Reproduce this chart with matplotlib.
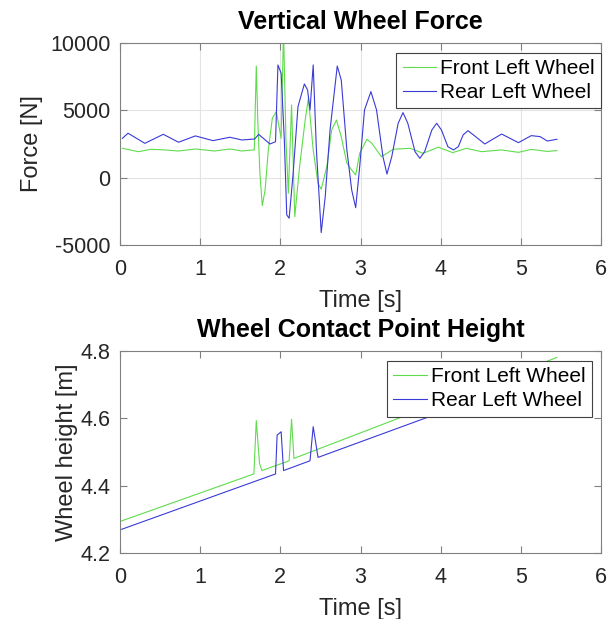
import matplotlib
matplotlib.use("Agg")
import matplotlib.pyplot as plt
from matplotlib.ticker import FormatStrFormatter

plt.rcParams['font.family'] = ['Liberation Sans', 'DejaVu Sans']
plt.rcParams['axes.unicode_minus'] = False

# ---- vertical wheel force ----
t_front = [0.03, 0.23, 0.39, 0.56, 0.73, 0.94, 1.18, 1.37, 1.52, 1.66, 1.675,
           1.70, 1.72, 1.745, 1.775, 1.81, 1.85, 1.90, 1.95, 2.01, 2.04, 2.07,
           2.10, 2.14, 2.18, 2.24, 2.31, 2.35, 2.41, 2.47, 2.51, 2.58, 2.64,
           2.70, 2.76, 2.83, 2.89, 2.94, 2.99, 3.08, 3.14, 3.26, 3.41, 3.62,
           3.78, 3.97, 4.15, 4.32, 4.51, 4.76, 4.97, 5.13, 5.33, 5.45]
f_front = [2180, 1930, 2110, 2060, 1980, 2130, 1980, 2130, 1980, 2060, 2060,
           8290, 4040, 330, -2080, -910, 2060, 4410, 4900, 2920, 11000, 2800,
           -1160, 5400, -2900, 820, 4280, 5890, 2060, -420, -860, 820, 3540,
           4280, 3040, 1070, 570, 200, 1810, 2850, 2560, 1560, 2110, 2180,
           1810, 2260, 1860, 2180, 1930, 2060, 1880, 2100, 1950, 2010]

t_rear = [0.03, 0.10, 0.31, 0.54, 0.73, 0.94, 1.16, 1.37, 1.52, 1.68, 1.73,
          1.87, 1.94, 1.97, 2.01, 2.05, 2.08, 2.11, 2.16, 2.22, 2.30, 2.34,
          2.37, 2.41, 2.45, 2.51, 2.56, 2.62, 2.71, 2.76, 2.83, 2.89, 2.94,
          2.99, 3.05, 3.13, 3.20, 3.28, 3.33, 3.39, 3.47, 3.53, 3.59, 3.68,
          3.74, 3.80, 3.89, 3.95, 4.01, 4.09, 4.16, 4.22, 4.28, 4.34, 4.41,
          4.55, 4.76, 4.97, 5.13, 5.24, 5.33, 5.45]
f_rear = [2920, 3300, 2550, 3220, 2630, 3100, 2750, 3000, 2800, 2870, 3220,
          2500, 2670, 8370, 7750, 2800, -2770, -3010, 330, 5270, 6960, 6510,
          5030, 8370, 2060, -4080, -1410, 3540, 8290, 7250, 2060, -910, -2230,
          820, 5030, 6390, 5030, 1560, 270, 1560, 4040, 4830, 4040, 1930,
          1440, 1930, 3540, 4040, 3540, 2300, 2060, 2300, 3170, 3490, 3170,
          2500, 3240, 2600, 3120, 3050, 2720, 2850]

# ---- wheel contact point height ----
t_front_h = [0.02, 1.67, 1.70, 1.74, 1.77, 2.11, 2.14, 2.17, 5.45]
h_front = [4.296, 4.435, 4.593, 4.467, 4.445, 4.474, 4.597, 4.481, 4.780]
t_rear_h = [0.02, 1.94, 1.96, 2.01, 2.04, 2.37, 2.41, 2.47, 5.45]
h_rear = [4.271, 4.435, 4.550, 4.560, 4.445, 4.474, 4.575, 4.484, 4.743]

green = '#5fdc4c'
blue = '#3a3ad8'
txt = '#262626'
edge = '#808080'

fig = plt.figure(figsize=(6.15, 6.19), dpi=100)
ax1 = fig.add_axes([120/615, 1 - 245/619, 481/615, 202/619])
ax2 = fig.add_axes([120/615, 1 - 553.3/619, 481/615, 202.6/619])


def style(ax):
    for s in ax.spines.values():
        s.set_color(edge)
        s.set_linewidth(0.8)
    ax.tick_params(direction='in', length=5, width=0.8, color=edge,
                   labelcolor=txt, labelsize=15.5, top=True, right=True)
    ax.tick_params(axis='x', pad=10)
    ax.tick_params(axis='y', pad=7)
    ax.set_xlim(0, 6)
    ax.set_xticks(range(7))


def add_legend(ax, anchor):
    leg = ax.legend(loc='upper right', bbox_to_anchor=anchor, fontsize=15,
                    frameon=True, fancybox=False, framealpha=1,
                    edgecolor='#404040', handlelength=1.6, handletextpad=0.2,
                    borderpad=0.3, labelspacing=0.25, borderaxespad=0)
    leg.get_frame().set_linewidth(0.8)


ax1.plot(t_front, f_front, color=green, lw=0.8, label='Front Left Wheel')
ax1.plot(t_rear, f_rear, color=blue, lw=0.8, label='Rear Left Wheel')
ax1.set_ylim(-5000, 10000)
ax1.set_yticks([-5000, 0, 5000, 10000])
ax1.grid(True, color='#e3e3e3', lw=0.8)
ax1.set_axisbelow(True)
style(ax1)
ax1.set_xlabel('Time [s]', fontsize=17, color=txt, labelpad=7)
ax1.set_ylabel('Force [N]', fontsize=17, color=txt, labelpad=5)
ax1.set_title('Vertical Wheel Force', fontsize=18, fontweight='bold', pad=10)
add_legend(ax1, (1.0, 0.952))

ax2.plot(t_front_h, h_front, color=green, lw=0.8, label='Front Left Wheel')
ax2.plot(t_rear_h, h_rear, color=blue, lw=0.8, label='Rear Left Wheel')
ax2.set_ylim(4.2, 4.8)
ax2.set_yticks([4.2, 4.4, 4.6, 4.8])
ax2.yaxis.set_major_formatter(FormatStrFormatter('%.1f'))
style(ax2)
ax2.set_xlabel('Time [s]', fontsize=17, color=txt, labelpad=7)
ax2.set_ylabel('Wheel height [m]', fontsize=17, color=txt, labelpad=2)
ax2.set_title('Wheel Contact Point Height', fontsize=18, fontweight='bold', pad=10)
add_legend(ax2, (0.981, 0.95))

fig.savefig('out.png', dpi=100)
